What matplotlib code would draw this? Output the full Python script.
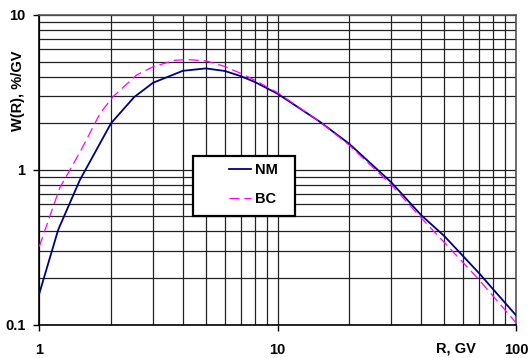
import matplotlib
matplotlib.use("Agg")
import matplotlib.pyplot as plt
from matplotlib.patches import Rectangle
from matplotlib.ticker import LogLocator, FixedLocator, FixedFormatter, NullFormatter

plt.rcParams['font.family'] = ['Liberation Sans', 'DejaVu Sans']

# Data
nm_R = [1, 1.2, 1.48, 2, 2.5, 3, 4, 5, 6, 7, 8, 10, 15, 20, 30, 40, 50, 70, 100]
nm_W = [0.159, 0.41, 0.86, 2.0, 2.95, 3.65, 4.36, 4.52, 4.35, 4.03, 3.7, 3.1, 2.05, 1.47, 0.83, 0.51, 0.374, 0.215, 0.115]

bc_R = [1, 1.22, 1.32, 1.5, 1.8, 2.04, 2.56, 3, 3.7, 4.2, 5, 6, 7, 8, 10, 15, 20, 30, 40, 50, 70, 100]
bc_W = [0.32, 0.77, 0.95, 1.35, 2.32, 2.97, 4.1, 4.63, 5.1, 5.15, 5.06, 4.65, 4.2, 3.8, 3.15, 2.05, 1.44, 0.8, 0.49, 0.34, 0.195, 0.103]

x_ticks = [1, 10, 100]
x_tick_labels = ["1", "10", "100"]
y_ticks = [0.1, 1, 10]
y_tick_labels = ["0.1", "1", "10"]

W, H = 529, 358
fig = plt.figure(figsize=(W / 100, H / 100), dpi=100)
ax = fig.add_axes([39.3 / W, 1 - 324.7 / H, (516 - 39.3) / W, (324.7 - 15) / H])

ax.set_xscale('log')
ax.set_yscale('log')
ax.set_xlim(1, 100)
ax.set_ylim(0.1, 10)

ax.plot(nm_R, nm_W, color='#000080', lw=1.3, label='NM', zorder=3)
ax.plot(bc_R, bc_W, color='#FF00FF', lw=0.9, dashes=(8, 4), label='BC', zorder=3)

ax.xaxis.set_major_locator(FixedLocator(x_ticks))
ax.xaxis.set_major_formatter(FixedFormatter(x_tick_labels))
ax.yaxis.set_major_locator(FixedLocator(y_ticks))
ax.yaxis.set_major_formatter(FixedFormatter(y_tick_labels))
ax.xaxis.set_minor_locator(LogLocator(base=10, subs=range(2, 10)))
ax.yaxis.set_minor_locator(LogLocator(base=10, subs=range(2, 10)))
ax.xaxis.set_minor_formatter(NullFormatter())
ax.yaxis.set_minor_formatter(NullFormatter())

ax.grid(True, which='both', color='#222222', lw=0.9, zorder=1)
ax.set_axisbelow(True)
ax.tick_params(which='minor', length=0)
ax.tick_params(which='major', length=4, width=1, direction='out', color='black')
ax.tick_params(axis='x', pad=9, labelsize=10.5)
ax.tick_params(axis='y', pad=6, labelsize=10.5)
for lab in ax.get_xticklabels() + ax.get_yticklabels():
    lab.set_fontweight('bold')

for s in ['left', 'bottom']:
    ax.spines[s].set_color('black')
    ax.spines[s].set_linewidth(1.2)
for s in ['top', 'right']:
    ax.spines[s].set_color('#555555')
    ax.spines[s].set_linewidth(1.2)

ax.set_ylabel('W(R), %/GV', fontsize=10.5, fontweight='bold')
ax.yaxis.set_label_coords(-0.045, 0.755)
ax.yaxis.label.set_va('center')
ax.set_xlabel('R, GV', fontsize=10.5, fontweight='bold')
ax.xaxis.set_label_coords(0.874, -0.076)
ax.xaxis.label.set_va('center')

# legend box
ax.add_patch(Rectangle((0.323, 0.351), 0.213, 0.194, transform=ax.transAxes,
                       facecolor='white', edgecolor='black', lw=1.6, zorder=4))
leg = ax.legend(loc='center left', bbox_to_anchor=(0.382, 0.452), frameon=False,
                borderpad=0, handlelength=1.5, handletextpad=0.3, labelspacing=1.05,
                prop={'weight': 'bold', 'size': 10.5})
leg.set_zorder(5)

fig.savefig('out.png', dpi=100)
